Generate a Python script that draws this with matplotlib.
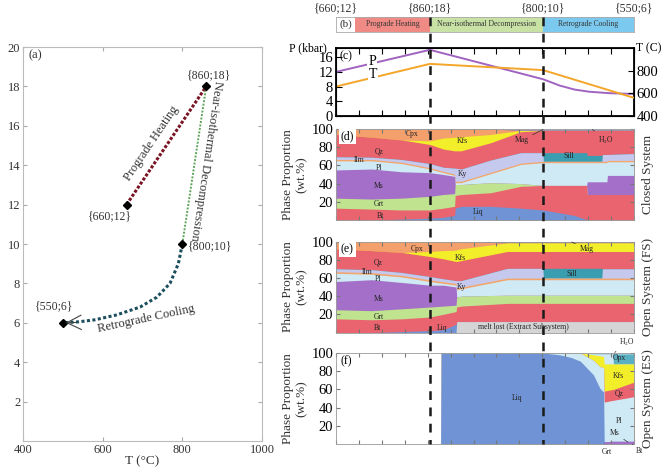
import numpy as np
import matplotlib
matplotlib.use('Agg')
import matplotlib.pyplot as plt
from matplotlib import transforms
from matplotlib.lines import Line2D

plt.rcParams['font.family'] = ['Liberation Serif', 'DejaVu Serif']
plt.rcParams['mathtext.fontset'] = 'stix'

# ---------------- (a) P-T path ----------------
pro_T = [660, 860]
pro_P = [12, 18]
dec_T = [860, 800]
dec_P = [18, 10]
ret_T = [800, 790, 769, 736, 694, 635, 580, 540, 500]
ret_P = [10, 9.0, 8.0, 7.3, 6.8, 6.4, 6.15, 6.05, 6.0]
node_T = [660, 860, 800, 500]
node_P = [12, 18, 10, 6]
node_lbl = ['{660;12}', '{860;18}', '{800;10}', '{550;6}']

# ---------------- (b)/(c) path along model steps ----------------
stage_x = [0, 31.5, 69.5, 100]
stage_names = ['Prograde Heating', 'Near-isothermal Decompression', 'Retrograde Cooling']
stage_colors = ['#ef8a84', '#c8e2a6', '#7cc9ef']
path_x = [0, 31.5, 69.5, 75, 80, 85, 92, 100]
path_P = [12, 18, 10, 8.3, 7.2, 6.6, 6.2, 6.0]
temp_x = [0, 31.5, 69.5, 100]
temp_T = [660, 860, 805, 560]

COL = {'Liq': '#6f93d4', 'Bt': '#e9646e', 'Grt': '#bfe38f', 'Ms': '#a46fc8',
       'Pl': '#cfe9f5', 'Ilm': '#f3a66b', 'Ky': '#c6c9ee', 'Sill': '#3b9db0',
       'Qz': '#e9646e', 'Kfs': '#f2ee2a', 'Cpx': '#f4a06c', 'Mag': '#8c7aa8',
       'H2O': '#d0e8f2', 'Opx': '#5ab0c2', 'lost': '#d5d5d5'}

# ---------------- (d) closed system: cumulative tops (wt.%) ----------------
x_d = [0, 12, 22, 31.5, 36, 39.8, 40.0, 42, 52, 62, 69.4, 69.6, 80, 84.1, 84.3, 89.2, 89.4, 90.9, 91.1, 100]
d_Liq = [0, 0, 1, 2, 3, 5, 13, 15, 15, 13, 11, 11, 5, 0.5, 0, 0, 0, 0, 0, 0]
d_Bt = [13, 12, 11, 11, 13, 15, 27, 28, 30, 37, 38, 38, 38, 38, 28, 28, 28, 28, 28, 28]
d_Grt = [24, 23, 24, 26, 28, 29, 39, 39, 41, 40, 38, 38, 38, 38, 28, 28, 28, 28, 28, 28]
d_Ms = [55, 56, 53, 52, 50, 48, 39, 39, 41, 40, 38, 38, 38, 38, 42, 42, 42, 42, 49, 49]
d_Pl = [65, 65, 62, 56, 52, 49, 41, 41, 51, 61, 63, 63, 63, 63, 63, 63, 63, 63, 64, 64]
d_Ilm = [66.5, 66.5, 63.5, 57.5, 53.5, 50.5, 42.5, 42.5, 52.5, 62.5, 64.5, 64.5, 64.5, 64.5, 64.5, 64.5, 64.5, 64.5, 65.5, 65.5]
d_Ky = [69.5, 69, 66.5, 62, 58, 57, 57, 56, 66, 74, 74, 64.5, 64.5, 64.5, 64.5, 64.5, 72, 72, 72, 73]
d_Sill = [69.5, 69, 66.5, 62, 58, 57, 57, 56, 66, 74, 74, 74, 74, 74, 71, 71, 72, 72, 72, 73]
d_Qz = [94, 91, 88, 83, 78, 76, 76, 76, 85, 97] + [98.4] * 10
d_Kfs = [94, 91, 88, 87, 90, 91, 91, 91.5, 94, 98.4] + [98.4] * 10
d_Cpx = [100] * 9 + [98.4] * 11
d_Mag = [100] * 9 + [99.2] * 11
d_H2O = [100] * 20

# ---------------- (e) open system (FS) ----------------
x_e = [0, 12, 22, 31.5, 36, 40.3, 40.5, 42, 57.5, 69.4, 69.6, 89.2, 89.4, 100]
e_lost = [0, 0, 0, 0, 0, 0, 12, 12, 12, 12, 12, 12, 12, 12]
e_Liq = [0, 0, 1, 2, 3, 9, 12, 12, 12, 12, 12, 12, 12, 12]
e_Bt = [15, 14, 15, 17, 20, 23, 28, 29, 32, 32, 32, 32, 32, 32]
e_Grt = [25, 24, 26, 28, 29, 30, 39, 40, 41, 41, 41, 41, 41, 41]
e_Ms = [56, 58, 55, 52, 52, 50, 39, 40, 41, 41, 41, 41, 41, 41]
e_Pl = [65, 64, 61, 56, 54, 52, 47, 48, 58, 58, 58, 58, 58, 58]
e_Ilm = [66.8, 65.8, 62.8, 57.8, 55.8, 53.8, 48.8, 49.8, 59.8, 59.8, 59.8, 59.8, 59.8, 59.8]
e_Ky = [70, 69, 66, 61.5, 59, 57, 57, 57, 70.5, 70.5, 59.8, 59.8, 70, 70]
e_Sill = [70, 69, 66, 61.5, 59, 57, 57, 57, 70.5, 70.5, 70.5, 70.5, 70, 70]
e_Qz = [92, 90, 88, 83.5, 81, 78, 78, 79, 89, 89, 89, 89, 89, 89]
e_Kfs = [92, 90, 88, 89, 90, 90.5, 91, 92, 98.5, 98.5, 98.5, 98.5, 98.5, 98.5]
e_Cpx = [100] * 8 + [98.5] * 6
e_Mag = [100] * 14

# ---------------- (f) open system (ES) ----------------
x_f = [0, 35.1, 35.3, 69.5, 75, 79, 82, 86.4, 88.6, 89.8, 90.0, 92.9, 93.1, 100]
f_Ms = [0] * 10 + [2.5, 3, 3, 3]
f_Liq = [0, 0, 100, 100, 98, 95, 91, 76, 61, 57, 2.5, 3, 3, 3]
f_Pl = [0, 0, 100, 100, 100, 100, 100, 92, 85, 84, 46, 48, 48, 52]
f_Qz = [0, 0, 100, 100, 100, 100, 100, 92, 85, 84, 58, 60, 60, 68]
f_Kfs = [0, 0, 100, 100, 100, 100, 100, 98, 97, 96, 88, 88, 88, 88]
f_Plup = [0, 0, 100, 100, 100, 100, 100, 99, 99, 99, 99, 99, 88, 88]
f_Opx = [0, 0, 100, 100, 100, 100, 100, 99, 99, 99, 99, 99, 99, 99]
f_H2O = [0, 0] + [100] * 12


def px_axes(fig, left, top, right, bottom):
    return fig.add_axes([left / 661, 1 - bottom / 469, (right - left) / 661, (bottom - top) / 469])


def draw_stack(ax, x, layers):
    # paint from the top layer down so no seams appear between bands
    for top, color in reversed(layers):
        ax.fill_between(x, 0, top, color=color, lw=0)


def style_stack_axes(ax):
    ax.set_xlim(0, 100)
    ax.set_ylim(0, 100)
    ax.set_yticks([20, 40, 60, 80, 100])
    ax.set_xticks(np.linspace(0, 100, 14))
    ax.tick_params(axis='both', direction='in', length=3, color='#777777',
                   top=True, right=True, labelbottom=False, labelsize=10.5, pad=2)
    for s in ax.spines.values():
        s.set_color('#999999')
        s.set_linewidth(0.6)
    ax.set_ylabel('Phase Proportion\n(wt.%)', fontsize=9.5, linespacing=1.1, labelpad=3, color='#333333')


def lab(ax, x, y, s, fs=5.5, **kw):
    ax.text(x, y, s, fontsize=fs, ha='center', va='center', color='#222222', **kw)


def leader(ax, s, xy, xytext, fs=5.5):
    ax.annotate(s, xy=xy, xytext=xytext, fontsize=fs, ha='center', va='center',
                color='#222222', annotation_clip=False,
                arrowprops=dict(arrowstyle='-', lw=0.5, color='#333333', shrinkA=1, shrinkB=0))


def main():
    fig = plt.figure(figsize=(6.61, 4.69), dpi=100)

    # ---------- (a) ----------
    ax_a = px_axes(fig, 23, 47, 262, 441)
    ax_a.plot(pro_T, pro_P, ls=(0, (1, 0.6)), color='#7a1424', lw=2.2)
    ax_a.plot(dec_T, dec_P, ls=(0, (1, 0.8)), color='#5fa55a', lw=1.4)
    ax_a.plot(ret_T, ret_P, ls=(0, (1, 0.8)), color='#1c4f5e', lw=2.2)
    ax_a.plot(node_T, node_P, 'D', color='black', ms=4.5)
    ax_a.annotate('', xy=(500, 6), xytext=(540, 6.02),
                  arrowprops=dict(arrowstyle='->', lw=0.8, color='#444444', mutation_scale=26))
    offs = [(-42, -0.6), (8, 0.55), (70, -0.1), (-22, 0.85)]
    for t, p, s, (dx, dy) in zip(node_T, node_P, node_lbl, offs):
        ax_a.text(t + dx, p + dy, s, fontsize=8.5, ha='center', va='center', color='#333333')
    ax_a.text(723, 15.1, 'Prograde Heating', rotation=56, fontsize=9, ha='center', va='center', color='#333333')
    ax_a.text(859, 14.2, 'Near-isothermal Decompression', rotation=-98.5, fontsize=9,
              ha='center', va='center', color='#333333')
    ax_a.text(709, 6.2, 'Retrograde Cooling', rotation=12, fontsize=9, ha='center', va='center', color='#333333')
    ax_a.text(432, 19.6, '(a)', fontsize=9, ha='center', va='center', color='#333333')
    ax_a.set_xlim(400, 1000)
    ax_a.set_ylim(0, 20)
    ax_a.set_xticks([400, 600, 800, 1000])
    ax_a.set_yticks(np.arange(2, 21, 2))
    ax_a.tick_params(direction='in', length=3, color='#aaaaaa', top=True, right=True,
                     labelsize=9, labelcolor='#333333', pad=2)
    for s in ax_a.spines.values():
        s.set_color('#bbbbbb')
    ax_a.set_xlabel('T (°C)', fontsize=9.5, color='#333333', labelpad=0)
    ax_a.set_ylabel('P (kbar)', fontsize=9.5, color='#333333')
    ax_a.yaxis.set_label_coords(-0.1, 0.5)

    # ---------- (b) ----------
    ax_b = px_axes(fig, 336, 17, 634, 32)
    ax_b.axvspan(0, 6.4, color='white')
    for i in range(3):
        lo = 6.4 if i == 0 else stage_x[i]
        ax_b.axvspan(lo, stage_x[i + 1], color=stage_colors[i], lw=0)
        ax_b.text((lo + stage_x[i + 1]) / 2, 0.5, stage_names[i], fontsize=5.5,
                  ha='center', va='center', color='#333333')
    ax_b.text(3.2, 0.5, '(b)', fontsize=8, ha='center', va='center', color='#333333')
    ax_b.set_xlim(0, 100)
    ax_b.set_ylim(0, 1)
    ax_b.set_xticks([])
    ax_b.set_yticks([])
    for s in ax_b.spines.values():
        s.set_color('#aaaaaa')
        s.set_linewidth(0.6)
    for xs, s in zip(stage_x, node_lbl):
        ax_b.text(xs, 1.6, s, fontsize=8.5, ha='center', va='center', color='#333333', clip_on=False)

    # ---------- (c) ----------
    ax_c = px_axes(fig, 336, 48, 634, 116)
    ax_c.plot(path_x, path_P, color='#a064c0', lw=1.4)
    ax_c.set_xlim(0, 100)
    ax_c.set_ylim(0, 18.5)
    ax_c.set_yticks([0, 4, 8, 12, 16])
    ax_c.set_xticks(np.linspace(0, 100, 14))
    ax_c.tick_params(direction='in', length=4, top=True, labelbottom=False, labelsize=10.5, pad=2)
    for s in ax_c.spines.values():
        s.set_linewidth(1.3)
    ax_c2 = ax_c.twinx()
    ax_c2.plot(temp_x, temp_T, color='#f4a62a', lw=1.4)
    ax_c2.set_ylim(400, 1000)
    ax_c2.set_yticks([400, 600, 800])
    ax_c2.tick_params(direction='in', length=4, labelsize=10.5, pad=2)
    ax_c.text(12.1, 14.7, 'P', fontsize=10, ha='center', va='center', zorder=5,
              bbox=dict(boxstyle='square,pad=0.05', fc='white', ec='none'))
    ax_c2.text(12.3, 400 + 11.2 / 18.5 * 600, 'T', fontsize=10, ha='center', va='center', zorder=5,
               bbox=dict(boxstyle='square,pad=0.05', fc='white', ec='none'))
    ax_c.text(3.5, 16.3, '(c)', fontsize=8.5, ha='center', va='center')
    ax_c.text(-0.094, 1.0, 'P (kbar)', fontsize=8.5, ha='center', va='center', transform=ax_c.transAxes)
    ax_c.text(1.05, 1.0, 'T (C)', fontsize=8.5, ha='center', va='center', transform=ax_c.transAxes)

    # ---------- (d) ----------
    ax_d = px_axes(fig, 336, 129, 634, 220)
    draw_stack(ax_d, x_d, [(d_Liq, COL['Liq']), (d_Bt, COL['Bt']), (d_Grt, COL['Grt']),
                           (d_Ms, COL['Ms']), (d_Pl, COL['Pl']), (d_Ilm, COL['Ilm']),
                           (d_Ky, COL['Ky']), (d_Sill, COL['Sill']), (d_Qz, COL['Qz']),
                           (d_Kfs, COL['Kfs']), (d_Cpx, COL['Cpx']), (d_Mag, COL['Mag']),
                           (d_H2O, COL['H2O'])])
    style_stack_axes(ax_d)
    ax_d.text(3.8, 92, '(d)', fontsize=8.5, ha='center', va='center',
              bbox=dict(boxstyle='square,pad=0.15', fc='white', ec='none'))
    for x, y, s in [(25.5, 95, 'Cpx'), (42.3, 86.8, 'Kfs'), (14.4, 75.8, 'Qz'), (7.7, 66, 'Ilm'),
                    (14.4, 57, 'Pl'), (42.3, 50.5, 'Ky'), (78.2, 70, 'Sill'), (14.4, 37.4, 'Ms'),
                    (14.4, 17.6, 'Grt'), (14.8, 4.4, 'Bt'), (47.7, 8.8, 'Liq')]:
        lab(ax_d, x, y, s)
    leader(ax_d, 'Mag', (69.5, 99.5), (62.3, 87.5))
    leader(ax_d, 'H$_2$O', (86, 99.5), (90.6, 87.5))
    ax_d.text(1.047, 0.5, 'Closed System', rotation=90, fontsize=9.5, ha='center', va='center',
              transform=ax_d.transAxes, color='#333333')

    # ---------- (e) ----------
    ax_e = px_axes(fig, 336, 241.5, 634, 332.5)
    draw_stack(ax_e, x_e, [(e_lost, COL['lost']), (e_Liq, COL['Liq']), (e_Bt, COL['Bt']),
                           (e_Grt, COL['Grt']), (e_Ms, COL['Ms']), (e_Pl, COL['Pl']),
                           (e_Ilm, COL['Ilm']), (e_Ky, COL['Ky']), (e_Sill, COL['Sill']),
                           (e_Qz, COL['Qz']), (e_Kfs, COL['Kfs']), (e_Cpx, COL['Cpx']),
                           (e_Mag, COL['Mag'])])
    style_stack_axes(ax_e)
    ax_e.text(3.8, 91, '(e)', fontsize=8.5, ha='center', va='center',
              bbox=dict(boxstyle='square,pad=0.15', fc='white', ec='none'))
    for x, y, s in [(27.1, 91.6, 'Cpx'), (41.6, 81.7, 'Kfs'), (14.2, 76.8, 'Qz'), (10.3, 66.2, 'Ilm'),
                    (14.2, 58.5, 'Pl'), (42.2, 49.7, 'Ky'), (79.1, 64.5, 'Sill'), (14.2, 36.8, 'Ms'),
                    (14.5, 16.6, 'Grt'), (13.9, 4.4, 'Bt'), (35.5, 4.4, 'Liq'),
                    (62.9, 6.5, 'melt lost (Extract Subsystem)')]:
        lab(ax_e, x, y, s)
    leader(ax_e, 'Mag', (79.1, 99.5), (84, 91.6))
    ax_e.text(1.047, 0.5, 'Open System (FS)', rotation=90, fontsize=9.5, ha='center', va='center',
              transform=ax_e.transAxes, color='#333333')

    # ---------- (f) ----------
    ax_f = px_axes(fig, 336, 353, 634, 444)
    draw_stack(ax_f, x_f, [(f_Ms, COL['Ms']), (f_Liq, COL['Liq']), (f_Pl, COL['Pl']),
                           (f_Qz, COL['Qz']), (f_Kfs, COL['Kfs']), (f_Plup, COL['Pl']),
                           (f_Opx, COL['Opx']), (f_H2O, COL['H2O'])])
    style_stack_axes(ax_f)
    ax_f.text(3.5, 91, '(f)', fontsize=8.5, ha='center', va='center')
    for x, y, s in [(60.6, 51, 'Liq'), (94.7, 75, 'Kfs'), (95, 55, 'Qz'), (95, 25, 'Pl'), (95, 94, 'Opx')]:
        lab(ax_f, x, y, s)
    leader(ax_f, 'Ms', (98, 2), (93.6, 11.7))
    leader(ax_f, 'H$_2$O', (93.5, 100.5), (97.5, 112))
    leader(ax_f, 'Grt', (90, 0), (90.8, -9))
    leader(ax_f, 'Bt', (99.5, 0), (101.8, -8))
    ax_f.text(1.047, 0.5, 'Open System (ES)', rotation=90, fontsize=9.5, ha='center', va='center',
              transform=ax_f.transAxes, color='#333333')

    # dashed stage boundaries through panels (b)-(f)
    trans = transforms.blended_transform_factory(ax_c.transData, fig.transFigure)
    for xs in stage_x[1:3]:
        fig.add_artist(Line2D([xs, xs], [1 - 17 / 469, 1 - 444 / 469], transform=trans,
                              color='#1a1a1a', lw=1.8, ls=(0, (3.5, 3)), zorder=10))

    fig.savefig('out.png', dpi=100)


if __name__ == '__main__':
    main()
